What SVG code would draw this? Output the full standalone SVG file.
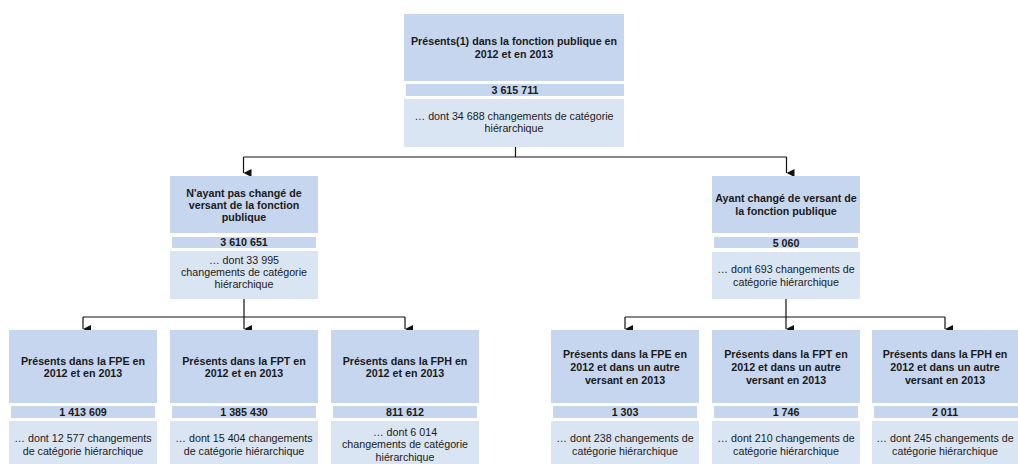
<svg xmlns="http://www.w3.org/2000/svg" width="1018" height="464" viewBox="0 0 1018 464">
<defs>
<marker id="arr" viewBox="0 0 8 8" refX="4" refY="8" markerWidth="8" markerHeight="8" markerUnits="userSpaceOnUse" orient="auto-start-reverse">
<path d="M0,0 L8,0 L4,8 Z" fill="#111"/>
</marker>
<style>
.t{fill:#c6d6ef}
.n{fill:#c6d6ef}
.s{fill:#dae5f3}
text{font-family:"Liberation Sans",Arial,sans-serif;font-size:10.7px;fill:#1a1a1a;text-anchor:middle}
.b{font-weight:bold}
.c{fill:none;stroke:#111;stroke-width:1.2}
</style>
</defs>
<rect width="1018" height="464" fill="#fff"/>
<g id="connectors">
<path class="c" d="M515.5,147 V157 M243.5,157 H786.5"/>
<path class="c" d="M243.5,157 V173" marker-end="url(#arr)"/>
<path class="c" d="M786.5,157 V173" marker-end="url(#arr)"/>
<path class="c" d="M244,299 V317 M83,317 H405"/>
<path class="c" d="M83,317 V329" marker-end="url(#arr)"/>
<path class="c" d="M244,317 V329" marker-end="url(#arr)"/>
<path class="c" d="M405,317 V329" marker-end="url(#arr)"/>
<path class="c" d="M786,299 V317 M625,317 H945"/>
<path class="c" d="M625,317 V329" marker-end="url(#arr)"/>
<path class="c" d="M786,317 V329" marker-end="url(#arr)"/>
<path class="c" d="M945,317 V329" marker-end="url(#arr)"/>
</g>
<g id="top">
<rect class="t" x="404" y="14" width="220" height="67"/>
<rect class="n" x="406" y="84" width="218" height="12"/>
<rect class="s" x="404" y="99" width="220" height="48"/>
<text class="b" x="514" y="45">Présents(1) dans la fonction publique en</text>
<text class="b" x="514" y="57.8">2012 et en 2013</text>
<text class="b" x="515" y="93.8">3 615 711</text>
<text x="514" y="119.5">… dont 34 688 changements de catégorie</text>
<text x="514" y="132.3">hiérarchique</text>
</g>
<g id="mid-left">
<rect class="t" x="170" y="176" width="148" height="57"/>
<rect class="n" x="172" y="237" width="144" height="11"/>
<rect class="s" x="170" y="251" width="148" height="48"/>
<text class="b" x="244" y="197">N'ayant pas changé de</text>
<text class="b" x="244" y="209.2">versant de la fonction</text>
<text class="b" x="244" y="221.4">publique</text>
<text class="b" x="244" y="246">3 610 651</text>
<text x="244" y="264">… dont 33 995</text>
<text x="244" y="276">changements de catégorie</text>
<text x="244" y="288">hiérarchique</text>
</g>
<g id="mid-right">
<rect class="t" x="712" y="176" width="148" height="57"/>
<rect class="n" x="714" y="237" width="144" height="11"/>
<rect class="s" x="712" y="252" width="148" height="47"/>
<text class="b" x="786" y="202">Ayant changé de versant de</text>
<text class="b" x="786" y="215">la fonction publique</text>
<text class="b" x="786" y="246.5">5 060</text>
<text x="786" y="273">… dont 693 changements de</text>
<text x="786" y="285.5">catégorie hiérarchique</text>
</g>
<g id="fpe">
<rect class="t" x="9" y="330" width="148" height="73"/>
<rect class="n" x="11" y="406" width="144" height="12"/>
<rect class="s" x="9" y="421" width="148" height="48"/>
<text class="b" x="83" y="364.5">Présents dans la FPE en</text>
<text class="b" x="83" y="377">2012 et en 2013</text>
<text class="b" x="83" y="415.5">1 413 609</text>
<text x="83" y="441.5">… dont 12 577 changements</text>
<text x="83" y="455">de catégorie hiérarchique</text>
</g>
<g id="fpt">
<rect class="t" x="170" y="330" width="148" height="73"/>
<rect class="n" x="172" y="406" width="144" height="12"/>
<rect class="s" x="170" y="421" width="148" height="48"/>
<text class="b" x="244" y="364.5">Présents dans la FPT en</text>
<text class="b" x="244" y="377">2012 et en 2013</text>
<text class="b" x="244" y="415.5">1 385 430</text>
<text x="244" y="441.5">… dont 15 404 changements</text>
<text x="244" y="455">de catégorie hiérarchique</text>
</g>
<g id="fph">
<rect class="t" x="331" y="330" width="148" height="73"/>
<rect class="n" x="333" y="406" width="144" height="12"/>
<rect class="s" x="331" y="421" width="148" height="48"/>
<text class="b" x="405" y="364.5">Présents dans la FPH en</text>
<text class="b" x="405" y="377">2012 et en 2013</text>
<text class="b" x="405" y="415.5">811 612</text>
<text x="405" y="435.5">… dont 6 014</text>
<text x="405" y="448">changements de catégorie</text>
<text x="405" y="460.5">hiérarchique</text>
</g>
<g id="fpe-autre">
<rect class="t" x="551" y="330" width="148" height="73"/>
<rect class="n" x="553" y="406" width="144" height="12"/>
<rect class="s" x="551" y="421" width="148" height="48"/>
<text class="b" x="625" y="357.5">Présents dans la FPE en</text>
<text class="b" x="625" y="370.5">2012 et dans un autre</text>
<text class="b" x="625" y="383.5">versant en 2013</text>
<text class="b" x="625" y="415.5">1 303</text>
<text x="625" y="441.5">… dont 238 changements de</text>
<text x="625" y="455">catégorie hiérarchique</text>
</g>
<g id="fpt-autre">
<rect class="t" x="712" y="330" width="148" height="73"/>
<rect class="n" x="714" y="406" width="144" height="12"/>
<rect class="s" x="712" y="421" width="148" height="48"/>
<text class="b" x="786" y="357.5">Présents dans la FPT en</text>
<text class="b" x="786" y="370.5">2012 et dans un autre</text>
<text class="b" x="786" y="383.5">versant en 2013</text>
<text class="b" x="786" y="415.5">1 746</text>
<text x="786" y="441.5">… dont 210 changements de</text>
<text x="786" y="455">catégorie hiérarchique</text>
</g>
<g id="fph-autre">
<rect class="t" x="872" y="330" width="148" height="73"/>
<rect class="n" x="874" y="406" width="144" height="12"/>
<rect class="s" x="872" y="421" width="148" height="48"/>
<text class="b" x="945" y="357.5">Présents dans la FPH en</text>
<text class="b" x="945" y="370.5">2012 et dans un autre</text>
<text class="b" x="945" y="383.5">versant en 2013</text>
<text class="b" x="945" y="415.5">2 011</text>
<text x="945" y="441.5">… dont 245 changements de</text>
<text x="945" y="455">catégorie hiérarchique</text>
</g>
</svg>
